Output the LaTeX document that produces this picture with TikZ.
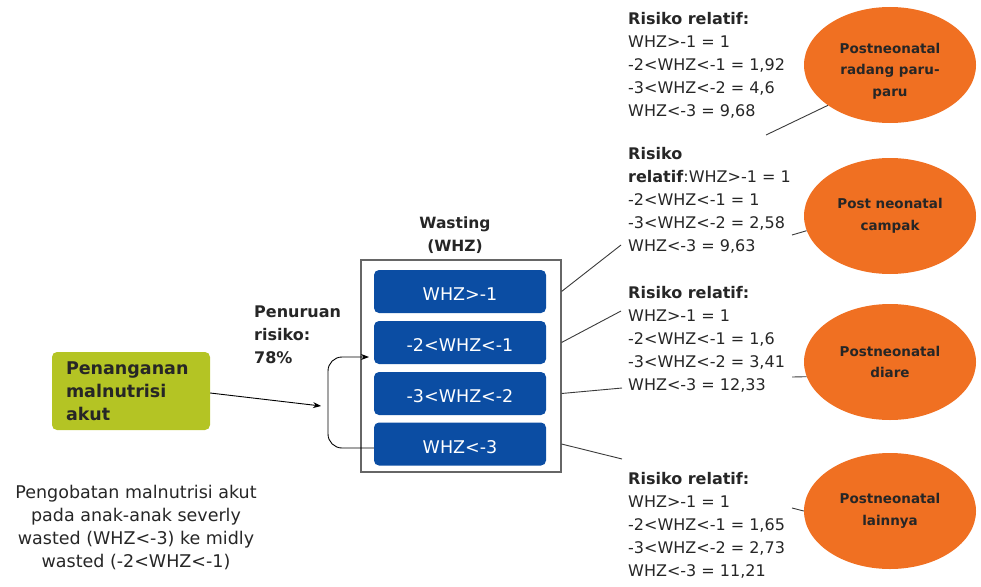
\documentclass[tikz,border=0pt]{standalone}
\usepackage{fontspec}
\setmainfont{DejaVu Sans}
\usetikzlibrary{shapes.geometric,arrows.meta}
\definecolor{tcol}{HTML}{262626}
\definecolor{gbox}{HTML}{B4C424}
\definecolor{bbox}{HTML}{0B4DA3}
\definecolor{obox}{HTML}{F07022}
\definecolor{lcol}{HTML}{3A3A3A}
\begin{document}
\begin{tikzpicture}[x=1pt,y=-1pt,
  txt/.style={text=tcol,font=\fontsize{16}{23}\selectfont,align=left,inner sep=0pt,anchor=base west},
  bluebox/.style={fill=bbox,rounded corners=5pt,minimum width=172pt,minimum height=43pt,text=white,font=\fontsize{17.5}{20}\selectfont,inner sep=0pt,text height=18pt,text depth=0pt},
  oval/.style={ellipse,fill=obox,minimum width=172pt,minimum height=116pt,inner sep=0pt,text=tcol,align=center,font=\fontsize{13.5}{21.5}\selectfont\bfseries},
  conn/.style={draw=lcol,line width=0.9pt},
  arr/.style={draw=black,line width=0.9pt,-{Stealth[length=8pt,width=6pt]}}]
\useasboundingbox (0,0) rectangle (981,586);

% green box
\node[fill=gbox,rounded corners=5pt,minimum width=158pt,minimum height=78pt,text width=130pt,inner xsep=14pt,align=left,text=tcol,font=\fontsize{17.5}{23}\selectfont\bfseries] (green) at (131,391) {Penanganan\\malnutrisi\\akut};

% labels left
\node[txt,font=\fontsize{16}{23}\selectfont\bfseries] (pen) at (254,363) {Penuruan\\risiko:\\78\%};
\node[txt,font=\fontsize{17.5}{23}\selectfont,align=center,anchor=base] (peng) at (136,567) {Pengobatan malnutrisi akut\\pada anak-anak severly\\wasted (WHZ<-3) ke midly\\wasted (-2<WHZ<-1)};
\node[txt,font=\fontsize{15.5}{23}\selectfont\bfseries,align=center,anchor=base] (wast) at (455,251) {Wasting\\(WHZ)};

% outer box and blue boxes
\node[draw=gray!80!black,line width=1.1pt,minimum width=200pt,minimum height=212pt,inner sep=0pt] (outer) at (461,366) {};
\node[bluebox] (b1) at (460,291.5) {WHZ>-1};
\node[bluebox] (b2) at (460,342.5) {-2<WHZ<-1};
\node[bluebox] (b3) at (460,393.5) {-3<WHZ<-2};
\node[bluebox] (b4) at (460,444) {WHZ<-3};

% arrows
\coordinate (aend) at (321,406);
\draw[arr] ([yshift=-2pt]green.east) -- (aend);
\coordinate (bend) at (369,357);
\draw[arr,rounded corners=14pt] ([yshift=-4pt]b4.west) -| (328,357) -- (bend);

% risk texts
\node[txt] (r1) at (628,116) {\textbf{Risiko relatif:}\\WHZ>-1 = 1\\-2<WHZ<-1 = 1,92\\-3<WHZ<-2 = 4,6\\WHZ<-3 = 9,68};
\node[txt] (r2) at (628,251) {\textbf{Risiko}\\\textbf{relatif}:WHZ>-1 = 1\\-2<WHZ<-1 = 1\\-3<WHZ<-2 = 2,58\\WHZ<-3 = 9,63};
\node[txt] (r3) at (628,390) {\textbf{Risiko relatif:}\\WHZ>-1 = 1\\-2<WHZ<-1 = 1,6\\-3<WHZ<-2 = 3,41\\WHZ<-3 = 12,33};
\node[txt] (r4) at (628,576) {\textbf{Risiko relatif:}\\WHZ>-1 = 1\\-2<WHZ<-1 = 1,65\\-3<WHZ<-2 = 2,73\\WHZ<-3 = 11,21};

% connectors from outer box
\coordinate (t1) at (621,245);
\coordinate (t2) at (621,311);
\coordinate (t3) at (622,388);
\coordinate (t4) at (622,459);
\draw[conn] (outer.east |- b1.east) -- (t1);
\draw[conn] (outer.east |- b2.east) -- (t2);
\draw[conn] (outer.east |- b3.east) -- (t3);
\draw[conn] (outer.east |- b4.east) -- (t4);

% ellipses
\node[oval,text height=65pt,text depth=3pt] (e1) at (890,65) {Postneonatal\\radang paru-\\paru};
\node[oval] (e2) at (890,216) {Post neonatal\\campak};
\node[oval] (e3) at (890,362) {Postneonatal\\diare};
\node[oval] (e4) at (890,511) {Postneonatal\\lainnya};

\coordinate (c1) at (766,135);
\coordinate (c2) at (792,235);
\coordinate (c3) at (792,377);
\coordinate (c4) at (792,508);
\draw[conn] (e1.213) -- (c1);
\draw[conn] (e2.190) -- (c2);
\draw[conn] (e3.190) -- (c3);
\draw[conn] (e4.west) -- (c4);
\end{tikzpicture}
\end{document}
